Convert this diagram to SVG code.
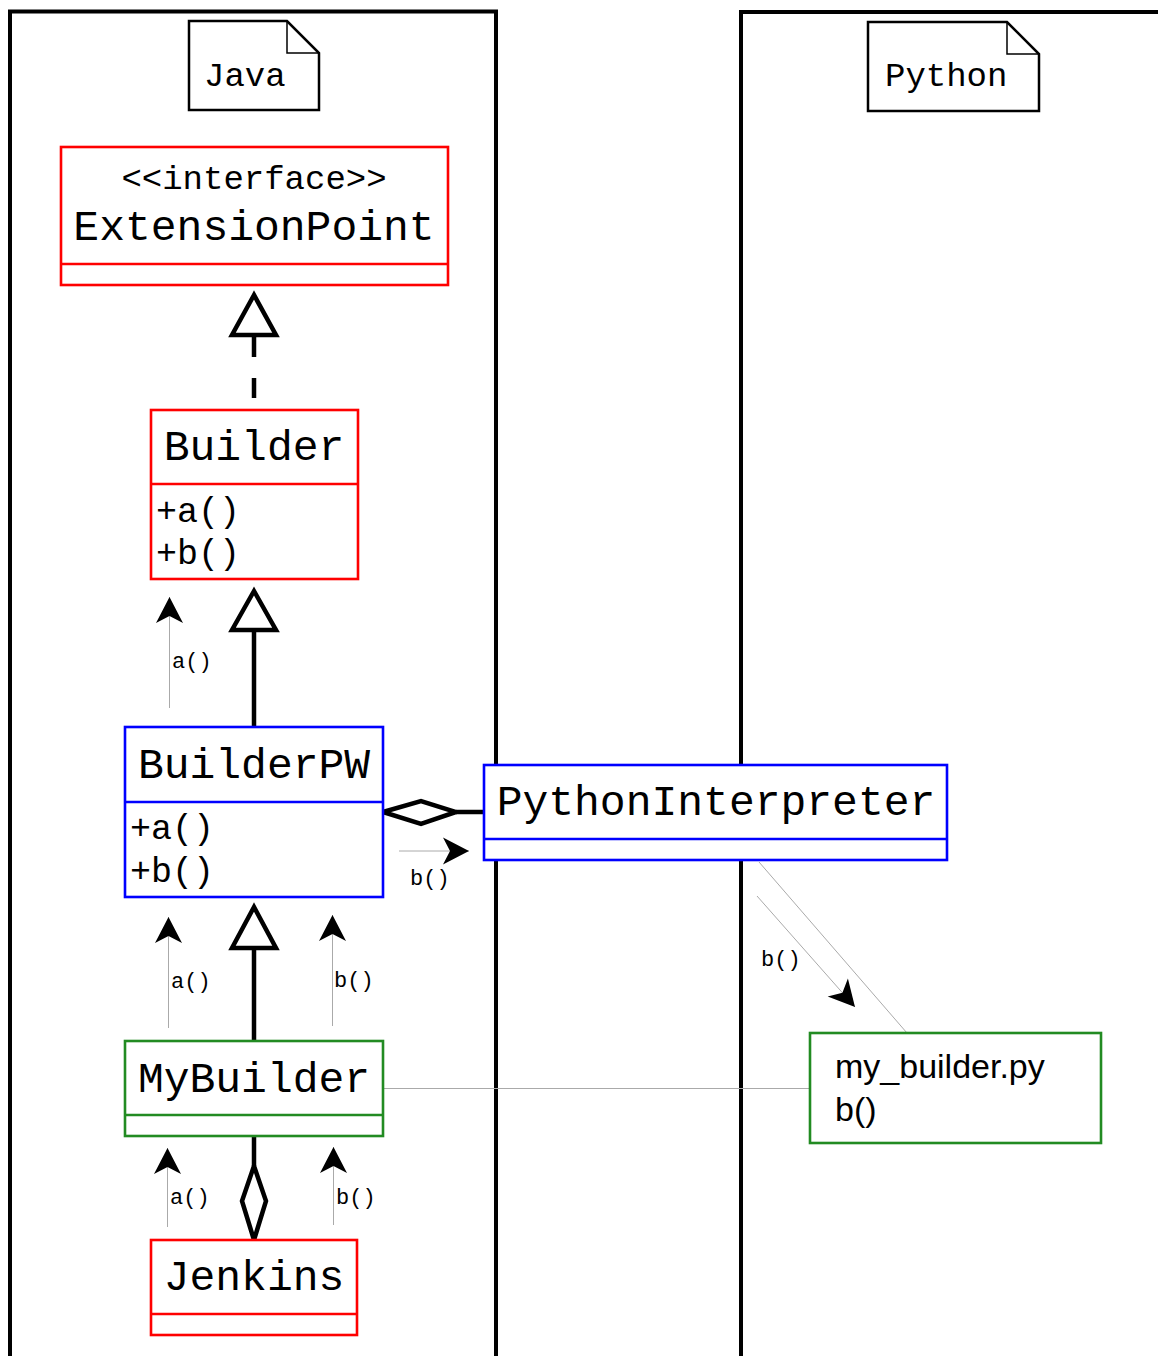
<svg xmlns="http://www.w3.org/2000/svg" width="1158" height="1356" viewBox="0 0 1158 1356">
<style>
.frame{fill:none;stroke:#000;stroke-width:4}
.note{fill:#fff;stroke:#000;stroke-width:2.5;stroke-linejoin:miter}
.fold{fill:none;stroke:#000;stroke-width:1.5}
.box{fill:#fff;stroke-width:2.6}
.red{stroke:#ff0000}
.blue{stroke:#0000ff}
.green{stroke:#228b22}
.mono{font-family:"Liberation Mono","DejaVu Sans Mono",monospace;fill:#000}
.big{font-size:43px}
.mid{font-size:34px}
.meth{font-size:35px}
.small{font-size:22px}
.sans{font-family:"Liberation Sans",Arial,sans-serif;font-size:34px;fill:#000}
.rel{fill:none;stroke:#000;stroke-width:4.5}
.hollow{fill:#fff;stroke:#000;stroke-width:4.5;stroke-linejoin:miter}
.msg{fill:none;stroke:#aaa;stroke-width:1}
.assoc{fill:none;stroke:#aaa;stroke-width:1}
</style>
<defs>
<marker id="ah" viewBox="-27 -15 29 30" refX="0" refY="0" markerWidth="29" markerHeight="30" markerUnits="userSpaceOnUse" orient="auto">
<path d="M0,0 L-26,-13.5 L-19,0 L-26,13.5 Z" fill="#000"/>
</marker>
</defs>

<g id="frame-java">
<path class="frame" d="M10,1360 V11.5 H496 V1360"/>
</g>
<g id="frame-python">
<path class="frame" d="M741,1360 V12 H1162"/>
</g>

<g id="note-java">
<path class="note" d="M189,21 H287 L319,53 V110 H189 Z"/>
<path class="fold" d="M287,21 V53 H319"/>
<text class="mono mid" x="204" y="86">Java</text>
</g>
<g id="note-python">
<path class="note" d="M868,22 H1007 L1039,54 V111 H868 Z"/>
<path class="fold" d="M1007,22 V54 H1039"/>
<text class="mono mid" x="885" y="86">Python</text>
</g>

<g id="connectors">
<!-- realization Builder -> ExtensionPoint -->
<line class="rel" x1="254" y1="398" x2="254" y2="336" stroke-dasharray="20 21"/>
<polygon class="hollow" points="254,295 232,335 276,335"/>
<!-- generalization BuilderPW -> Builder -->
<line class="rel" x1="254" y1="727" x2="254" y2="630"/>
<polygon class="hollow" points="254,591 232,630 276,630"/>
<!-- generalization MyBuilder -> BuilderPW -->
<line class="rel" x1="254" y1="1041" x2="254" y2="948"/>
<polygon class="hollow" points="254,907 232,948 276,948"/>
<!-- aggregation MyBuilder - Jenkins -->
<line class="rel" x1="254" y1="1137" x2="254" y2="1166"/>
<polygon class="hollow" points="254,1166 266,1201 254,1240 242,1201"/>
<!-- aggregation BuilderPW - PythonInterpreter -->
<line class="rel" x1="456" y1="812" x2="484" y2="812"/>
<polygon class="hollow" points="383,812 421,801 456,812 421,824"/>
<!-- associations -->
<line class="assoc" x1="383" y1="1088.5" x2="810" y2="1088.5"/>
<line class="assoc" x1="759" y1="862" x2="907" y2="1033"/>
<!-- messages -->
<line class="msg" x1="169.5" y1="708" x2="169.5" y2="597" marker-end="url(#ah)"/>
<text class="mono small" x="172" y="668">a()</text>
<line class="msg" x1="399" y1="851" x2="469" y2="851" marker-end="url(#ah)"/>
<text class="mono small" x="410" y="885">b()</text>
<line class="msg" x1="168.5" y1="1028" x2="168.5" y2="917" marker-end="url(#ah)"/>
<text class="mono small" x="171" y="988">a()</text>
<line class="msg" x1="332.5" y1="1026" x2="332.5" y2="915" marker-end="url(#ah)"/>
<text class="mono small" x="334" y="987">b()</text>
<line class="msg" x1="167.5" y1="1227" x2="167.5" y2="1148" marker-end="url(#ah)"/>
<text class="mono small" x="170" y="1204">a()</text>
<line class="msg" x1="333.5" y1="1225" x2="333.5" y2="1147" marker-end="url(#ah)"/>
<text class="mono small" x="336" y="1204">b()</text>
<line class="msg" x1="757" y1="896" x2="855" y2="1007" marker-end="url(#ah)"/>
<text class="mono small" x="761" y="966">b()</text>
</g>

<g id="ExtensionPoint">
<rect class="box red" x="61" y="147" width="387" height="138"/>
<line class="red" stroke-width="2.6" x1="61" y1="264" x2="448" y2="264"/>
<text class="mono mid" x="254" y="189" text-anchor="middle">&lt;&lt;interface&gt;&gt;</text>
<text class="mono big" x="254" y="240" text-anchor="middle">ExtensionPoint</text>
</g>

<g id="Builder">
<rect class="box red" x="151" y="410" width="207" height="169"/>
<line class="red" stroke-width="2.6" x1="151" y1="484" x2="358" y2="484"/>
<text class="mono big" x="254" y="460" text-anchor="middle">Builder</text>
<text class="mono meth" x="156" y="522">+a()</text>
<text class="mono meth" x="156" y="564">+b()</text>
</g>

<g id="BuilderPW">
<rect class="box blue" x="125" y="727" width="258" height="170"/>
<line class="blue" stroke-width="2.6" x1="125" y1="802" x2="383" y2="802"/>
<text class="mono big" x="254" y="778" text-anchor="middle">BuilderPW</text>
<text class="mono meth" x="130" y="839">+a()</text>
<text class="mono meth" x="130" y="882">+b()</text>
</g>

<g id="PythonInterpreter">
<rect class="box blue" x="484" y="765" width="463" height="95"/>
<line class="blue" stroke-width="2.6" x1="484" y1="839" x2="947" y2="839"/>
<text class="mono big" x="716" y="815" text-anchor="middle">PythonInterpreter</text>
</g>

<g id="MyBuilder">
<rect class="box green" x="125" y="1041" width="258" height="95"/>
<line class="green" stroke-width="2.6" x1="125" y1="1115" x2="383" y2="1115"/>
<text class="mono big" x="254" y="1092" text-anchor="middle">MyBuilder</text>
</g>

<g id="Jenkins">
<rect class="box red" x="151" y="1240" width="206" height="95"/>
<line class="red" stroke-width="2.6" x1="151" y1="1314" x2="357" y2="1314"/>
<text class="mono big" x="254" y="1290" text-anchor="middle">Jenkins</text>
</g>

<g id="my_builder_py">
<rect class="box green" x="810" y="1033" width="291" height="110"/>
<text class="sans" x="835" y="1078">my_builder.py</text>
<text class="sans" x="835" y="1121">b()</text>
</g>
</svg>
